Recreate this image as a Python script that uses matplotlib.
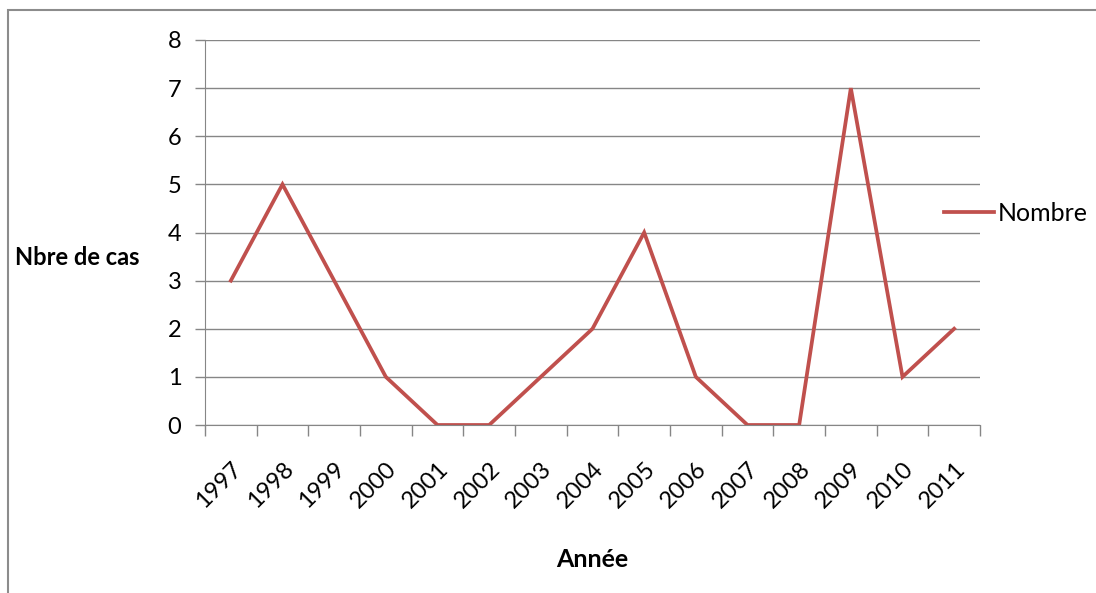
import numpy as np
import matplotlib
matplotlib.use("Agg")
import matplotlib.pyplot as plt
from matplotlib.patches import Rectangle

plt.rcParams['font.family'] = ['Lato', 'DejaVu Sans']

annees = ['1997', '1998', '1999', '2000', '2001', '2002', '2003', '2004',
          '2005', '2006', '2007', '2008', '2009', '2010', '2011']
nombre = [3, 5, 3, 1, 0, 0, 1, 2, 4, 1, 0, 0, 7, 1, 2]

fig = plt.figure(figsize=(10.96, 5.93), dpi=100)
ax = fig.add_axes([205/1096, 1 - 425/593, 775/1096, 385/593])

x = np.arange(len(annees))
ax.plot(x, nombre, color='#C0504D', lw=2.7, label='Nombre', solid_joinstyle='miter')

ax.set_xlim(-0.5, len(annees) - 0.5)
ax.set_ylim(0, 8)
ax.set_yticks(range(0, 9))
ax.grid(axis='y', color='#868686', lw=1)
ax.set_axisbelow(True)

ax.set_xticks(x)
ax.set_xticklabels(annees, rotation=45, ha='right', va='top',
                   rotation_mode='anchor', fontsize=17)
ax.set_xticks(np.arange(-0.5, len(annees)), minor=True)
ax.tick_params(axis='x', which='major', length=0, pad=24)
ax.tick_params(axis='x', which='minor', length=8, color='#868686', width=1)
ax.tick_params(axis='y', length=7, color='#868686', width=1, labelsize=17, pad=10)

for s in ['top', 'right']:
    ax.spines[s].set_visible(False)
for s in ['left', 'bottom']:
    ax.spines[s].set_color('#868686')

ax.set_xlabel('Année', fontsize=18, fontweight='bold', labelpad=26)
fig.text(15/1096, 1 - 258/593, 'Nbre de cas', fontsize=17, fontweight='bold',
         ha='left', va='center')

ax.legend(loc='center left', bbox_to_anchor=(0.94, 0.55), frameon=False,
          fontsize=18, handlelength=2.0, handletextpad=0.15,
          borderaxespad=0)

fig.patches.append(Rectangle((8/1096, -0.1), 1.2, 1.1 - 10/593,
                             transform=fig.transFigure, fill=False,
                             edgecolor='#8c8c8c', lw=1.5))

fig.savefig('out.png', dpi=100)
